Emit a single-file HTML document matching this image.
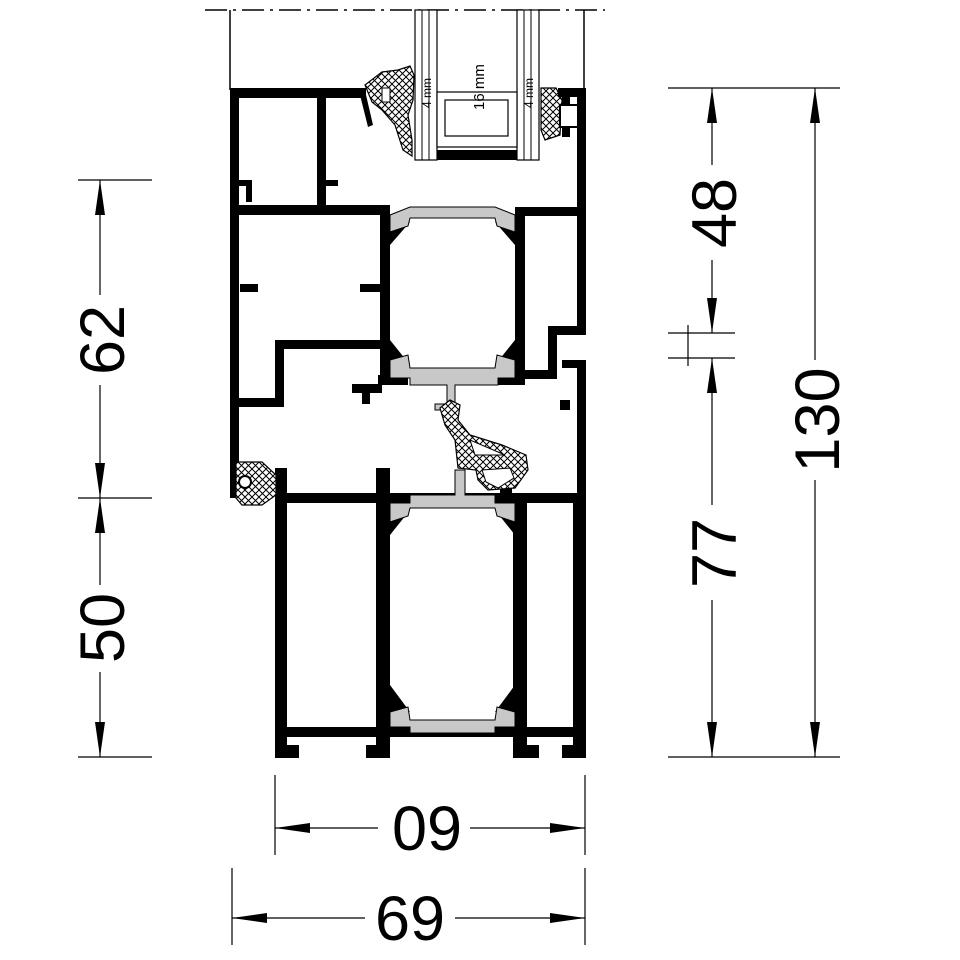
<!DOCTYPE html>
<html><head><meta charset="utf-8"><style>
html,body{margin:0;padding:0;background:#fff;}
svg{display:block;}
text{font-family:"Liberation Sans",Arial,sans-serif;fill:#000;}
</style></head><body>
<svg width="960" height="960" viewBox="0 0 960 960" xmlns="http://www.w3.org/2000/svg">
<defs>
<pattern id="hx" width="7" height="7" patternUnits="userSpaceOnUse">
<rect width="7" height="7" fill="#fff"/>
<path d="M0 0L7 7M7 0L0 7" stroke="#000" stroke-width="1"/>
</pattern>
</defs>
<line x1="205" y1="10" x2="605" y2="10" stroke="#000" stroke-width="1.5" stroke-dasharray="22,6,3,6"/>
<line x1="230" y1="10" x2="230" y2="90" stroke="#000" stroke-width="1.5"/>
<line x1="584" y1="10" x2="584" y2="90" stroke="#000" stroke-width="1.5"/>
<rect x="415" y="10" width="22" height="150" fill="#fff" stroke="#000" stroke-width="1.2"/>
<line x1="422" y1="10" x2="422" y2="160" stroke="#000"/><line x1="429" y1="10" x2="429" y2="160" stroke="#000"/>
<rect x="517" y="10" width="22" height="150" fill="#fff" stroke="#000" stroke-width="1.2"/>
<line x1="524" y1="10" x2="524" y2="160" stroke="#000"/><line x1="531" y1="10" x2="531" y2="160" stroke="#000"/>
<rect x="437" y="92" width="80" height="55" fill="#fff" stroke="#000" stroke-width="1.2"/>
<rect x="445" y="100" width="63" height="36" fill="#fff" stroke="#000" stroke-width="1.2"/>
<rect x="437" y="150" width="80" height="10" fill="#000"/>
<text transform="translate(484,110) rotate(-90)" font-size="15" font-family="Liberation Sans, sans-serif">16 mm</text>
<text transform="translate(431,108) rotate(-90)" font-size="12" font-family="Liberation Sans, sans-serif">4 mm</text>
<text transform="translate(533,108) rotate(-90)" font-size="12" font-family="Liberation Sans, sans-serif">4 mm</text>
<path d="M365 85 L382 72 L398 70 L410 66 L414 75 L413 100 L408 115 L412 140 L412 156 L403 150 L395 125 L382 110 L372 102 Z" fill="url(#hx)" stroke="#000" stroke-width="1.2"/>
<rect x="382" y="88" width="8" height="14" fill="#fff" stroke="#000"/>
<path d="M541 88 L556 88 L562 100 L560 135 L545 140 L541 130 Z" fill="url(#hx)" stroke="#000" stroke-width="1.2"/>
<g fill="#000">
<rect x="230" y="88" width="136" height="10"/>
<rect x="230" y="88" width="9" height="410"/>
<rect x="317" y="94" width="9" height="112"/>
<path d="M360 95 L366 95 L373 125 L368 127 Z"/>
<rect x="558" y="88" width="28" height="9"/>
<rect x="577" y="88" width="9" height="245"/>
<rect x="562" y="97" width="8" height="40" fill="#000"/>
<rect x="560" y="105" width="18" height="22" fill="#fff" stroke="#000" stroke-width="2"/>
<rect x="238" y="205" width="152" height="10"/>
<rect x="520" y="207" width="58" height="9"/>
<rect x="238" y="180" width="14" height="6"/><rect x="246" y="180" width="6" height="22"/>
<rect x="318" y="180" width="20" height="6"/><rect x="320" y="186" width="6" height="20"/>
<rect x="240" y="284" width="18" height="8"/><rect x="360" y="284" width="22" height="8"/>
<rect x="548" y="326" width="38" height="9"/>
<rect x="548" y="326" width="9" height="52"/>
<rect x="522" y="370" width="35" height="9"/>
<rect x="562" y="360" width="24" height="8"/>
<rect x="577" y="360" width="9" height="138"/>
<rect x="560" y="400" width="10" height="10"/>
<rect x="275" y="340" width="115" height="9"/>
<rect x="275" y="340" width="9" height="66"/>
<rect x="238" y="398" width="46" height="9"/>
<rect x="352" y="384" width="30" height="9"/><rect x="362" y="384" width="8" height="20"/>
<rect x="380" y="207" width="10" height="178"/>
<rect x="515" y="207" width="10" height="178"/>
<rect x="378" y="375" width="30" height="10"/>
<rect x="498" y="375" width="27" height="10"/>
<rect x="275" y="493" width="311" height="10"/>
<rect x="275" y="468" width="12" height="290"/>
<rect x="376" y="468" width="14" height="290"/>
<rect x="513" y="493" width="14" height="265"/>
<rect x="573" y="493" width="13" height="265"/>
<rect x="275" y="727" width="311" height="10"/>
<rect x="287" y="745" width="12" height="13"/><rect x="366" y="745" width="12" height="13"/>
<rect x="527" y="745" width="12" height="13"/><rect x="562" y="745" width="12" height="13"/>
<rect x="500" y="478" width="12" height="15"/>
</g>
<g fill="#000">
<path d="M390 222 L410 222 L390 245 Z"/><path d="M515 222 L495 222 L515 245 Z"/>
<path d="M390 365 L410 365 L390 340 Z"/><path d="M515 365 L495 365 L515 340 Z"/>
<path d="M390 510 L410 510 L390 535 Z"/><path d="M515 510 L495 510 L515 535 Z"/>
<path d="M390 712 L410 712 L390 685 Z"/><path d="M515 712 L495 712 L515 685 Z"/>
</g>
<g fill="#c8c8c8" stroke="#000" stroke-width="1">
<path d="M390 215 L410 207 L495 207 L515 215 L515 232 L497 226 L495 218 L410 218 L408 226 L390 232 Z"/>
<path d="M390 360 L408 355 L410 368 L495 368 L497 355 L515 360 L515 378 L498 378 L498 385 L455 385 L455 410 L435 410 L435 404 L447 404 L447 385 L410 385 L410 378 L390 378 Z"/>
<path d="M390 503 L410 503 L410 495 L455 495 L455 470 L465 470 L465 495 L495 495 L495 503 L515 503 L515 522 L497 516 L495 508 L410 508 L408 516 L390 522 Z"/>
<path d="M390 712 L408 707 L410 720 L495 720 L497 707 L515 712 L515 727 L495 727 L495 733 L410 733 L410 727 L390 727 Z"/>
</g>
<path d="M440 408 L450 400 L460 405 L458 420 L470 435 L502 445 L526 455 L528 470 L515 488 L488 490 L478 480 L476 470 L458 468 L455 440 L445 425 Z" fill="url(#hx)" stroke="#000" stroke-width="1.2"/>
<path d="M470 440 L475 455 L505 455 Z" fill="#fff" stroke="#000"/>
<path d="M482 470 L510 468 L514 478 L498 488 L486 482 Z" fill="#fff" stroke="#000"/>
<path d="M236 462 L262 462 L276 475 L276 495 L262 505 L242 505 L236 498 Z" fill="url(#hx)" stroke="#000" stroke-width="1.2"/>
<circle cx="245" cy="482" r="6" fill="#fff" stroke="#000" stroke-width="2"/>
<g stroke="#000" stroke-width="1.2" fill="none">
<line x1="78" y1="180" x2="152" y2="180"/><line x1="78" y1="498" x2="152" y2="498"/><line x1="78" y1="757" x2="152" y2="757"/>
<line x1="100" y1="180" x2="100" y2="295"/><line x1="100" y1="385" x2="100" y2="498"/>
<line x1="100" y1="498" x2="100" y2="585"/><line x1="100" y1="672" x2="100" y2="757"/>
<line x1="668" y1="88" x2="840" y2="88"/><line x1="668" y1="757" x2="840" y2="757"/>
<line x1="668" y1="333" x2="735" y2="333"/><line x1="668" y1="358" x2="735" y2="358"/>
<line x1="688" y1="325" x2="688" y2="366"/>
<line x1="712" y1="88" x2="712" y2="165"/><line x1="712" y1="260" x2="712" y2="333"/>
<line x1="712" y1="358" x2="712" y2="505"/><line x1="712" y1="600" x2="712" y2="757"/>
<line x1="815" y1="88" x2="815" y2="360"/><line x1="815" y1="480" x2="815" y2="757"/>
<line x1="275" y1="775" x2="275" y2="855"/><line x1="585" y1="775" x2="585" y2="855"/>
<line x1="275" y1="828" x2="378" y2="828"/><line x1="470" y1="828" x2="585" y2="828"/>
<line x1="232" y1="868" x2="232" y2="945"/><line x1="585" y1="868" x2="585" y2="945"/>
<line x1="232" y1="918" x2="365" y2="918"/><line x1="455" y1="918" x2="585" y2="918"/>
</g>
<g fill="#000">
<path d="M100 180 L95 215 L105 215 Z"/><path d="M100 498 L95 463 L105 463 Z"/>
<path d="M100 498 L95 533 L105 533 Z"/><path d="M100 757 L95 722 L105 722 Z"/>
<path d="M712 88 L707 123 L717 123 Z"/><path d="M712 333 L707 298 L717 298 Z"/>
<path d="M712 358 L707 393 L717 393 Z"/><path d="M712 757 L707 722 L717 722 Z"/>
<path d="M815 88 L810 123 L820 123 Z"/><path d="M815 757 L810 722 L820 722 Z"/>
<path d="M275 828 L310 823 L310 833 Z"/><path d="M585 828 L550 823 L550 833 Z"/>
<path d="M232 918 L267 913 L267 923 Z"/><path d="M585 918 L550 913 L550 923 Z"/>
</g>
<g font-size="63">
<text transform="translate(124,340) rotate(-90)" text-anchor="middle">62</text>
<text transform="translate(124,628) rotate(-90)" text-anchor="middle">50</text>
<text transform="translate(736,213) rotate(-90)" text-anchor="middle">48</text>
<text transform="translate(736,553) rotate(-90)" text-anchor="middle">77</text>
<text transform="translate(839,420) rotate(-90)" text-anchor="middle">130</text>
<text x="427" y="850" text-anchor="middle">09</text>
<text x="410" y="940" text-anchor="middle">69</text>
</g>
</svg>
</body></html>
